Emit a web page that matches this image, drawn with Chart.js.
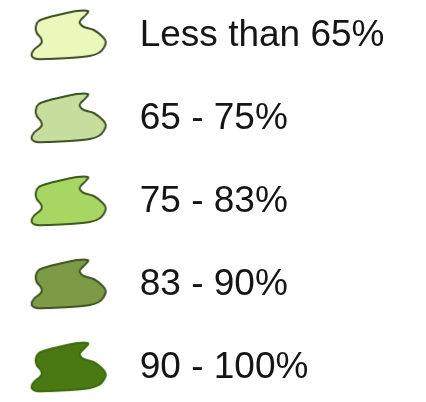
<!DOCTYPE html>
<html>
<head>
<meta charset="utf-8">
<script src="https://cdn.jsdelivr.net/npm/chart.js@4"></script>
<style>
  html, body { margin: 0; padding: 0; background: #ffffff; }
  #wrap { width: 426px; height: 402px; }
</style>
</head>
<body>
<div id="wrap"><canvas id="legendChart" width="426" height="402"></canvas></div>
<script>
// legend classes, top to bottom
const categories = ['Less than 65%', '65 - 75%', '75 - 83%', '83 - 90%', '90 - 100%'];
const fillColors = ['#eaf8bc', '#c6dd9e', '#a8d663', '#7e9a47', '#4a7912'];
const edgeColors = ['#3d4d22', '#3d5324', '#3e5a20', '#3f5620', '#3e6a0c'];

// blob outline (relative to its centre), closed smooth curve
const blobPts = [
    [-33, -8], [-30, -14], [-19, -18], [-6, -21], [8, -24], [19, -24],
    [17, -20], [12, -15], [11, -12], [15, -8], [25, -5], [34, 2],
    [37, 7], [35, 13], [30, 18], [21, 21], [1, 23], [-19, 24],
    [-32, 24], [-37, 21], [-35, 15], [-29, 10], [-27, 7], [-28, 3], [-32, -2]
];

function makeBlob(fill, edge) {
    const c = document.createElement('canvas');
    c.width = 86; c.height = 58;
    const g = c.getContext('2d');
    g.translate(43, 29);
    const n = blobPts.length;
    g.beginPath();
    g.moveTo(blobPts[0][0], blobPts[0][1]);
    for (let i = 0; i < n; i++) {
        const p0 = blobPts[(i - 1 + n) % n], p1 = blobPts[i];
        const p2 = blobPts[(i + 1) % n], p3 = blobPts[(i + 2) % n];
        g.bezierCurveTo(
            p1[0] + (p2[0] - p0[0]) / 6, p1[1] + (p2[1] - p0[1]) / 6,
            p2[0] - (p3[0] - p1[0]) / 6, p2[1] - (p3[1] - p1[1]) / 6,
            p2[0], p2[1]);
    }
    g.closePath();
    g.fillStyle = fill;
    g.fill();
    g.lineWidth = 2;
    g.lineJoin = 'round';
    g.strokeStyle = edge;
    g.stroke();
    return c;
}

const blobs = fillColors.map((f, i) => makeBlob(f, edgeColors[i]));

// draws the class text next to each blob
const labelPlugin = {
    id: 'labelPlugin',
    afterDatasetsDraw(chart) {
        const ctx = chart.ctx;
        const meta = chart.getDatasetMeta(0);
        ctx.save();
        ctx.font = '37px "Liberation Sans", Arial, sans-serif';
        ctx.fillStyle = '#151515';
        ctx.textBaseline = 'middle';
        ctx.textAlign = 'left';
        meta.data.forEach((pt, i) => {
            ctx.fillText(categories[i], pt.x + 71, pt.y + 1);
        });
        ctx.restore();
    }
};

new Chart(document.getElementById('legendChart'), {
    type: 'scatter',
    data: {
        datasets: [{
            data: categories.map((c, i) => ({ x: 0, y: i })),
            pointStyle: blobs,
            pointRadius: 30,
            pointHoverRadius: 30
        }]
    },
    options: {
        responsive: false,
        animation: false,
        layout: { padding: 0, autoPadding: false },
        plugins: { legend: { display: false }, tooltip: { enabled: false } },
        scales: {
            x: { type: 'linear', min: -0.5, max: 2.6, display: false },
            y: { type: 'linear', min: -0.42, max: 4.42, reverse: true, display: false }
        }
    },
    plugins: [labelPlugin]
});
</script>
</body>
</html>
